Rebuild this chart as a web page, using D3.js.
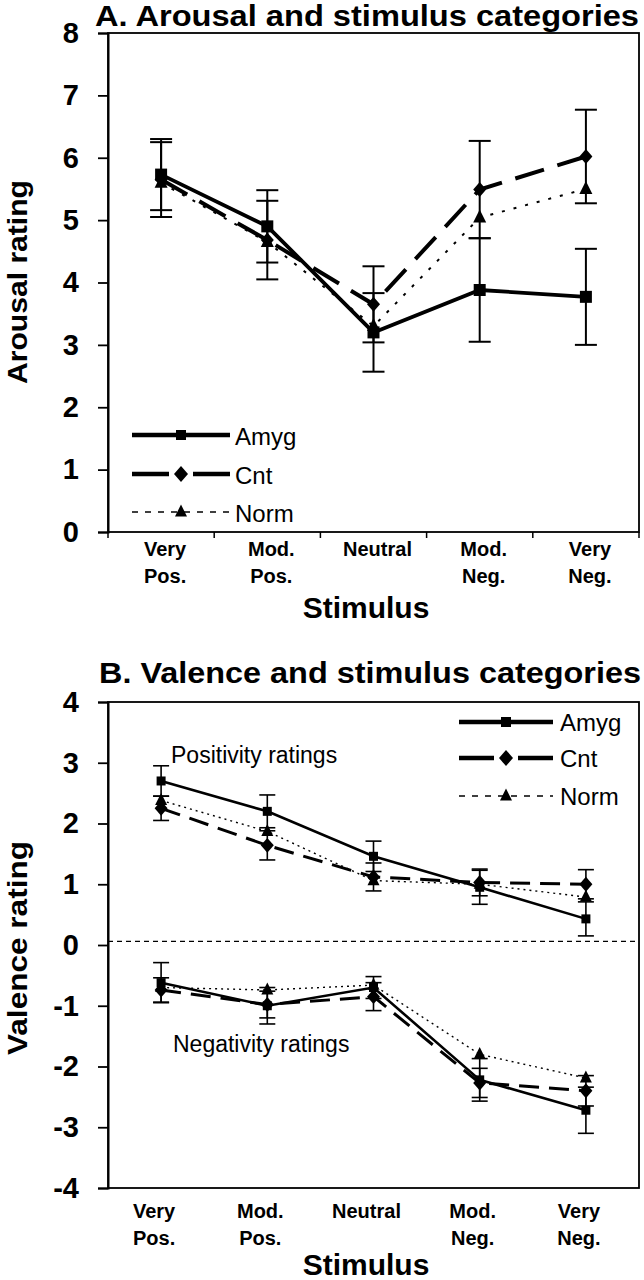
<!DOCTYPE html>
<html><head><meta charset="utf-8">
<script src="https://cdn.jsdelivr.net/npm/d3@7"></script>
<style>html,body{margin:0;padding:0;background:#fff}svg{display:block}text{font-family:"Liberation Sans",Arial,sans-serif;fill:#000}</style>
</head><body><div id="chart"></div>
<script>
// ---------- data ----------
const categories = ["Very Pos.", "Mod. Pos.", "Neutral", "Mod. Neg.", "Very Neg."];
const categoryLine1 = ["Very", "Mod.", "Neutral", "Mod.", "Very"];
const categoryLine2 = ["Pos.", "Pos.", "", "Neg.", "Neg."];
const seriesNames = ["Amyg", "Cnt", "Norm"];

const arousalTicks = [0, 1, 2, 3, 4, 5, 6, 7, 8];
const arousalAmyg = [5.73, 4.90, 3.20, 3.88, 3.77];
const arousalAmygErr = [0.57, 0.58, 0.63, 0.83, 0.77];
const arousalCnt = [5.65, 4.68, 3.65, 5.49, 6.02];
const arousalCntErr = [0.60, 0.63, 0.61, 0.78, 0.75];
const arousalNorm = [5.60, 4.65, 3.30, 5.04, 5.50];

const valenceTicks = [-4, -3, -2, -1, 0, 1, 2, 3, 4];
const valencePosAmyg = [2.70, 2.20, 1.46, 0.95, 0.43];
const valencePosAmygErr = [0.25, 0.27, 0.25, 0.28, 0.28];
const valencePosCnt = [2.25, 1.64, 1.12, 1.03, 1.00];
const valencePosCntErr = [0.20, 0.24, 0.23, 0.22, 0.24];
const valencePosNorm = [2.38, 1.87, 1.06, 1.00, 0.79];
const valenceNegAmyg = [-0.62, -1.00, -0.70, -2.22, -2.72];
const valenceNegAmygErr = [0.33, 0.30, 0.18, 0.35, 0.38];
const valenceNegCnt = [-0.74, -0.98, -0.85, -2.27, -2.40];
const valenceNegCntErr = [0.20, 0.22, 0.23, 0.24, 0.25];
const valenceNegNorm = [-0.70, -0.74, -0.66, -1.80, -2.19];
const valenceDivider = 0.06;

// ---------- drawing ----------
const svg = d3.select("#chart").append("svg").attr("width", 644).attr("height", 1280);

const squareSym = { draw(ctx, s) { const h = Math.sqrt(s) / 2; ctx.rect(-h, -h, 2 * h, 2 * h); } };
const diamondSym = { draw(ctx, s) { const w = Math.sqrt(s) / 2, h = w * 1.15; ctx.moveTo(0, -h); ctx.lineTo(w, 0); ctx.lineTo(0, h); ctx.lineTo(-w, 0); ctx.closePath(); } };
const triSym = { draw(ctx, s) { const w = Math.sqrt(s) / 2, h = w * 2; ctx.moveTo(0, -h * 0.62); ctx.lineTo(w, h * 0.38); ctx.lineTo(-w, h * 0.38); ctx.closePath(); } };
const symTypes = { Amyg: squareSym, Cnt: diamondSym, Norm: triSym };

function panel(cfg) {
  const g = svg.append("g");
  const x = d3.scaleBand().domain(categories).range([cfg.left, cfg.right]);
  const y = d3.scaleLinear().domain(cfg.yDomain).range([cfg.bottom, cfg.top]);
  const cx = c => x(c) + x.bandwidth() / 2;

  // frame
  g.append("rect").attr("x", cfg.left).attr("y", cfg.top)
    .attr("width", cfg.right - cfg.left).attr("height", cfg.bottom - cfg.top)
    .attr("fill", "none").attr("stroke", "#000").attr("stroke-width", 1.8);

  // y axis
  const ya = g.append("g").attr("transform", `translate(${cfg.left},0)`)
    .call(d3.axisLeft(y).tickValues(cfg.yTicks).tickSize(10).tickPadding(19).tickFormat(d => String(d)));
  ya.select(".domain").attr("stroke-width", 2);
  ya.selectAll(".tick line").attr("stroke-width", 1.8);
  ya.selectAll(".tick text").attr("font-size", 29).attr("font-weight", "bold")
    .attr("font-family", "'Liberation Sans',Arial,sans-serif").attr("fill", "#000");

  // x axis
  const xa = g.append("g").attr("transform", `translate(0,${cfg.bottom})`)
    .call(d3.axisBottom(x).tickSize(0).tickFormat(""));
  xa.select(".domain").remove();
  if (cfg.xTicks) {
    const bounds = categories.map(c => x(c)).concat([x.range()[1]]);
    g.selectAll(".btick").data(bounds).join("line")
      .attr("x1", d => d).attr("x2", d => d).attr("y1", cfg.bottom).attr("y2", cfg.bottom + 6)
      .attr("stroke", "#000").attr("stroke-width", 1.5);
  }
  const lab = g.selectAll(".xlab").data(categories).join("text")
    .attr("text-anchor", "middle").attr("font-size", 20).attr("font-weight", "bold");
  lab.append("tspan").attr("x", d => cx(d) + cfg.labelDx).attr("y", cfg.bottom + cfg.label1)
    .text((d, i) => categoryLine1[i]);
  lab.append("tspan").attr("x", d => cx(d) + cfg.labelDx).attr("y", cfg.bottom + cfg.label2)
    .text((d, i) => categoryLine2[i]);

  g.append("text").attr("x", 366).attr("y", cfg.stimY).attr("text-anchor", "middle")
    .attr("font-size", 30).attr("font-weight", "bold").text("Stimulus");

  g.append("text").attr("transform", `translate(27,${cfg.yTitleY}) rotate(-90)`)
    .attr("text-anchor", "middle").attr("font-size", 28).attr("font-weight", "bold")
    .attr("textLength", cfg.yTitleLen).attr("lengthAdjust", "spacingAndGlyphs").text(cfg.yTitle);

  g.append("text").attr("x", cfg.titleX).attr("y", cfg.titleY).attr("font-size", 30)
    .attr("font-weight", "bold").attr("textLength", cfg.titleLen)
    .attr("lengthAdjust", "spacingAndGlyphs").text(cfg.title);

  if (cfg.divider !== undefined) {
    g.append("line").attr("x1", cfg.left).attr("x2", cfg.right)
      .attr("y1", y(cfg.divider)).attr("y2", y(cfg.divider))
      .attr("stroke", "#000").attr("stroke-width", 1.4).attr("stroke-dasharray", "5,4");
  }

  const st = cfg.styles;
  cfg.groups.forEach(grp => {
    // error bars
    grp.forEach(s => {
      if (!s.err) return;
      const eb = g.append("g");
      categories.forEach((c, i) => {
        const v = s.values[i], e = s.err[i], xc = cx(c);
        eb.append("line").attr("x1", xc).attr("x2", xc).attr("y1", y(v + e)).attr("y2", y(v - e))
          .attr("stroke", "#000").attr("stroke-width", st.errW);
        [v + e, v - e].forEach(t => eb.append("line")
          .attr("x1", xc - st.cap).attr("x2", xc + st.cap).attr("y1", y(t)).attr("y2", y(t))
          .attr("stroke", "#000").attr("stroke-width", st.errW));
      });
    });
    // lines (Norm first, Amyg last)
    grp.slice().reverse().forEach(s => {
      const ss = st[s.name];
      const line = d3.line().x((d, i) => cx(categories[i])).y(d => y(d));
      g.append("path").datum(s.values).attr("d", line).attr("fill", "none")
        .attr("stroke", "#000").attr("stroke-width", ss.w)
        .attr("stroke-dasharray", ss.dash || null);
    });
    grp.slice().reverse().forEach(s => {
      const ss = st[s.name];
      g.selectAll(null).data(s.values).join("path")
        .attr("transform", (d, i) => `translate(${cx(categories[i])},${y(d)})`)
        .attr("d", d3.symbol().type(symTypes[s.name]).size(ss.m * ss.m))
        .attr("fill", "#000");
    });
  });

  // legend
  const L = cfg.legend;
  seriesNames.forEach((n, k) => {
    const yy = L.y[k], ls = L.styles[n];
    const mid = (L.x1 + L.x2) / 2;
    let dash = ls.dash || null;
    if (ls.gap) dash = `${mid - L.x1 - ls.gap},${2 * ls.gap},${L.x2 - mid - ls.gap}`;
    g.append("line").attr("x1", L.x1).attr("x2", L.x2).attr("y1", yy).attr("y2", yy)
      .attr("stroke", "#000").attr("stroke-width", ls.w).attr("stroke-dasharray", dash);
    g.append("path").attr("transform", `translate(${mid},${yy})`)
      .attr("d", d3.symbol().type(symTypes[n]).size(ls.m * ls.m)).attr("fill", "#000");
    g.append("text").attr("x", L.tx).attr("y", yy + L.dy).attr("font-size", 24).text(n);
  });
}

panel({
  left: 108, right: 639, top: 33, bottom: 532,
  yDomain: [0, 8], yTicks: arousalTicks,
  xTicks: true, labelDx: 4, label1: 24, label2: 51, stimY: 618,
  yTitle: "Arousal rating", yTitleY: 282, yTitleLen: 204,
  title: "A. Arousal and stimulus categories", titleX: 95, titleY: 26, titleLen: 544,
  groups: [[
    { name: "Amyg", values: arousalAmyg, err: arousalAmygErr },
    { name: "Cnt", values: arousalCnt, err: arousalCntErr },
    { name: "Norm", values: arousalNorm }
  ]],
  styles: {
    errW: 2, cap: 11,
    Amyg: { w: 3.8, m: 12 },
    Cnt: { w: 4, dash: "30,14", m: 13 },
    Norm: { w: 2, dash: "3,9", m: 13 }
  },
  legend: {
    x1: 132, x2: 230, tx: 235, dy: 10, y: [435, 474, 512],
    styles: {
      Amyg: { w: 4.5, m: 10 },
      Cnt: { w: 4.5, gap: 12, m: 14 },
      Norm: { w: 1.5, dash: "6,7", m: 12 }
    }
  }
});

panel({
  left: 108, right: 639, top: 702, bottom: 1188,
  yDomain: [-4, 4], yTicks: valenceTicks,
  xTicks: false, labelDx: -7, label1: 30, label2: 57, stimY: 1275,
  yTitle: "Valence rating", yTitleY: 948, yTitleLen: 214,
  title: "B. Valence and stimulus categories", titleX: 99, titleY: 683, titleLen: 542,
  divider: valenceDivider,
  groups: [[
    { name: "Amyg", values: valencePosAmyg, err: valencePosAmygErr },
    { name: "Cnt", values: valencePosCnt, err: valencePosCntErr },
    { name: "Norm", values: valencePosNorm }
  ], [
    { name: "Amyg", values: valenceNegAmyg, err: valenceNegAmygErr },
    { name: "Cnt", values: valenceNegCnt, err: valenceNegCntErr },
    { name: "Norm", values: valenceNegNorm }
  ]],
  styles: {
    errW: 1.6, cap: 8,
    Amyg: { w: 2.6, m: 9 },
    Cnt: { w: 3, dash: "20,10", m: 13 },
    Norm: { w: 1.4, dash: "2,4", m: 12 }
  },
  legend: {
    x1: 459, x2: 553, tx: 560, dy: 9, y: [722, 758, 796],
    styles: {
      Amyg: { w: 4.5, m: 10 },
      Cnt: { w: 4.5, gap: 12, m: 14 },
      Norm: { w: 1.5, dash: "6,7", m: 12 }
    }
  }
});

svg.append("text").attr("x", 171).attr("y", 763).attr("font-size", 23).text("Positivity ratings");
svg.append("text").attr("x", 173).attr("y", 1052).attr("font-size", 23).text("Negativity ratings");
</script></body></html>
